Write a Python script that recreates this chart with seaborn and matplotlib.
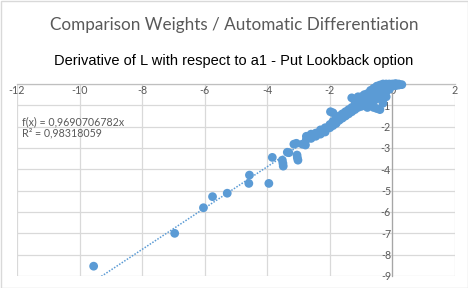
import numpy as np
import pandas as pd
import matplotlib
matplotlib.use("Agg")
import matplotlib.pyplot as plt
import seaborn as sns
from matplotlib.patches import Rectangle

title = "Comparison Weights / Automatic Differentiation"
subtitle = "Derivative of L with respect to a1 - Put Lookback option"
eq_text = "f(x) = 0,9690706782x"
r2_text = "R\u00b2 = 0,98318059"
slope = 0.9690706782

# weights (x) vs automatic differentiation (y)
x_outliers = [-9.55, -6.96, -6.04, -5.75, -5.28, -4.57, -4.59, -3.95, -3.84, -3.52, -3.50, -3.49,
              -3.31, -3.05, -3.04, -3.02, -3.15, -2.88, -3.07, -3.36, -2.78]
y_outliers = [-8.54, -7.00, -5.80, -5.28, -5.12, -4.27, -4.66, -4.66, -3.44, -3.57, -3.72, -3.85,
              -3.22, -3.33, -3.45, -3.57, -2.82, -2.82, -2.78, -3.20, -2.86]

x_band = [-2.75, -2.75, -2.6, -2.6, -2.6, -2.45, -2.45, -2.3, -2.3, -2.3, -2.15, -2.15,
          -2.0, -2.0, -1.98, -1.9, -1.9, -1.9, -1.8, -1.8, -1.7, -1.7, -1.7,
          -1.6, -1.6, -1.6, -1.5, -1.5, -1.5, -1.4, -1.4, -1.3, -1.3, -1.3,
          -1.2, -1.2, -1.2, -1.1, -1.1, -1.1, -1.0, -1.0, -1.0, -0.9, -0.9, -0.9,
          -0.8, -0.8, -0.8, -0.7, -0.7, -0.7, -0.6, -0.6, -0.6, -0.6,
          -0.5, -0.5, -0.5, -0.5, -0.4, -0.4, -0.4, -0.4, -0.3, -0.3, -0.3, -0.3,
          -0.2, -0.2, -0.2, -0.2, -0.1, -0.1, -0.1, 0.0, 0.0, 0.1, 0.1, 0.2, 0.2, 0.3]
y_band = [-2.45, -2.6, -2.35, -2.55, -2.45, -2.3, -2.45, -2.15, -2.35, -2.25, -2.05, -2.25,
          -1.9, -2.05, -1.3, -1.75, -1.95, -1.35, -1.65, -1.85, -1.5, -1.7, -1.6,
          -1.4, -1.6, -1.5, -1.3, -1.5, -1.45, -1.2, -1.4, -0.65, -1.1, -1.3,
          -1.0, -1.2, -0.8, -0.9, -1.1, -0.6, -0.6, -0.8, -1.05, -0.5, -0.75, -1.0,
          -0.45, -0.7, -1.1, -0.3, -0.55, -0.9, -0.2, -0.45, -0.8, -1.1,
          -0.1, -0.35, -0.7, -1.15, -0.05, -0.3, -0.6, -1.2, 0.0, -0.2, -0.45, -0.9,
          0.0, -0.15, -0.35, -0.6, 0.0, -0.1, -0.25, 0.0, -0.1, 0.02, -0.08, 0.0, -0.05, -0.03]

x_ticks = [-12, -10, -8, -6, -4, -2, 0, 2]
y_ticks = [0, -1, -2, -3, -4, -5, -6, -7, -8, -9]

df = pd.DataFrame({"weights": x_outliers + x_band, "ad": y_outliers + y_band})

blue = "#5B9BD5"
gray_txt = "#595959"

sns.set_theme(style="white")
plt.rcParams["font.family"] = ["Lato", "DejaVu Sans"]

fig = plt.figure(figsize=(4.68, 2.88), dpi=100)
ax = fig.add_axes([17 / 468, 1 - 276 / 288, (455 - 17) / 468, (276 - 84) / 288])
ax.set_facecolor("white")

# trendline
xl = np.array([df["weights"].min(), df["weights"].max()])
ax.plot(xl, slope * xl, linestyle=(0, (1, 1)), color=blue, lw=1.1, zorder=2)

sns.scatterplot(data=df, x="weights", y="ad", ax=ax, s=40, color=blue,
                edgecolor="none", linewidth=0, zorder=3, clip_on=False)

ax.set_xlim(-12, 2)
ax.set_ylim(-9, 0)
ax.set_xticks(x_ticks)
ax.set_yticks(y_ticks)
ax.set_xticklabels([str(v) for v in x_ticks])
ax.set_yticklabels([str(v) for v in y_ticks])
ax.grid(True, color="#D9D9D9", lw=0.9)
ax.set_axisbelow(True)
ax.set_xlabel("")
ax.set_ylabel("")

for s in ["top", "right"]:
    ax.spines[s].set_visible(False)
ax.spines["bottom"].set_position(("data", 0))
ax.spines["left"].set_position(("data", 0))
ax.spines["bottom"].set_color("#BFBFBF")
ax.spines["left"].set_color("#A6A6A6")
ax.spines["bottom"].set_linewidth(0.9)
ax.spines["left"].set_linewidth(0.9)
ax.tick_params(axis="both", length=0, labelsize=7.7, labelcolor=gray_txt, pad=1)

ax.text(-11.85, -1.75, eq_text, fontsize=7.7, color=gray_txt, ha="left", va="center")
ax.text(-11.85, -2.3, r2_text, fontsize=7.7, color=gray_txt, ha="left", va="center")

fig.text(0.5, 1 - 25 / 288, title, fontsize=12.3, color=gray_txt, ha="center", va="center")
fig.text(0.5, 1 - 61 / 288, subtitle, fontsize=10.5, color="black", ha="center", va="center",
         family=["Liberation Sans", "DejaVu Sans"])

fig.patches.append(Rectangle((0.5 / 468, 0.5 / 288), 1 - 1 / 468, 1 - 1 / 288,
                             transform=fig.transFigure, fill=False, edgecolor="#D9D9D9", lw=1))

fig.savefig("out.png", dpi=100)
